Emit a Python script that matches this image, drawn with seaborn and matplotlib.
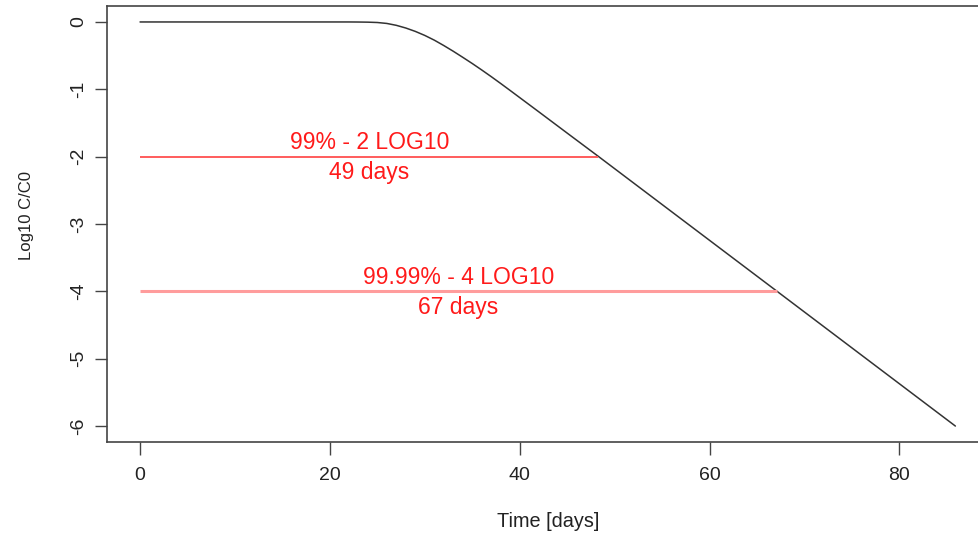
import numpy as np
import pandas as pd
import seaborn as sns
import matplotlib
matplotlib.use("Agg")
import matplotlib.pyplot as plt

# decay curve (days, log10 C/C0)
time_days = [0, 10, 20, 22, 23, 24, 25, 26, 27, 28, 29, 30, 31, 32, 33, 34,
             35, 36, 37, 38, 39, 40, 42, 45, 48.4, 67.1, 85.9]
log_ratio = [0, 0, 0, 0, -0.001, -0.003, -0.008, -0.022, -0.05, -0.09, -0.14,
             -0.2, -0.27, -0.35, -0.435, -0.525, -0.617, -0.713, -0.812,
             -0.914, -1.018, -1.123, -1.333, -1.65, -2.008, -3.998, -6.0]

# reduction levels and the day each one is reached
levels = [-2, -4]
level_days = [48.3, 67.1]
level_top = ["99% - 2 LOG10", "99.99% - 4 LOG10"]
level_bottom = ["49 days", "67 days"]
level_colors = ["#ff5c5c", "#ff9c9c"]
level_widths = [1.4, 2.2]

x_ticks = [0, 20, 40, 60, 80]
y_ticks = [-6, -5, -4, -3, -2, -1, 0]

curve = pd.DataFrame({"time": time_days, "log": log_ratio})

sns.set_theme(style="white")
plt.rcParams["font.family"] = ["Liberation Sans", "DejaVu Sans"]
plt.rcParams["axes.unicode_minus"] = False

fig = plt.figure(figsize=(9.79, 5.37), dpi=100)
ax = fig.add_axes([0.1097, 0.1765, 0.9001, 0.8127])

sns.lineplot(data=curve, x="time", y="log", ax=ax, color="#333333",
             linewidth=1.1, sort=False, estimator=None)

for lv, d, top, bot, c, w in zip(levels, level_days, level_top, level_bottom,
                                 level_colors, level_widths):
    ax.hlines(lv, 0, d, color=c, linewidth=w)
    ax.annotate(top, (d / 2, lv), xytext=(0, 5.5), textcoords="offset points",
                ha="center", va="baseline", color="#ff1a1a", fontsize=16.5)
    ax.annotate(bot, (d / 2, lv), xytext=(0, -16), textcoords="offset points",
                ha="center", va="baseline", color="#ff1a1a", fontsize=16.5)

ax.set_xlim(-3.44, 89.4)
ax.set_ylim(-6.24, 0.24)
ax.set_xticks(x_ticks)
ax.set_yticks(y_ticks)
ax.set_xlabel("Time [days]", fontsize=14.3, color="#222222")
ax.set_ylabel("Log10 C/C0", fontsize=12, color="#222222")
ax.xaxis.set_label_coords(0.5, -0.16)
ax.yaxis.set_label_coords(-0.0835, 0.52)

ax.tick_params(axis="both", direction="out", length=9, width=1.0,
               color="#444444", labelsize=14, labelcolor="#222222",
               bottom=True, left=True)
ax.tick_params(axis="x", pad=8.6)
ax.tick_params(axis="y", pad=5.5)
for lab in ax.get_yticklabels():
    lab.set_rotation(90)
    lab.set_va("center")
    lab.set_ha("right")

for sp in ax.spines.values():
    sp.set_visible(True)
    sp.set_color("#444444")
    sp.set_linewidth(1.2)

fig.savefig("out.png", dpi=100)
